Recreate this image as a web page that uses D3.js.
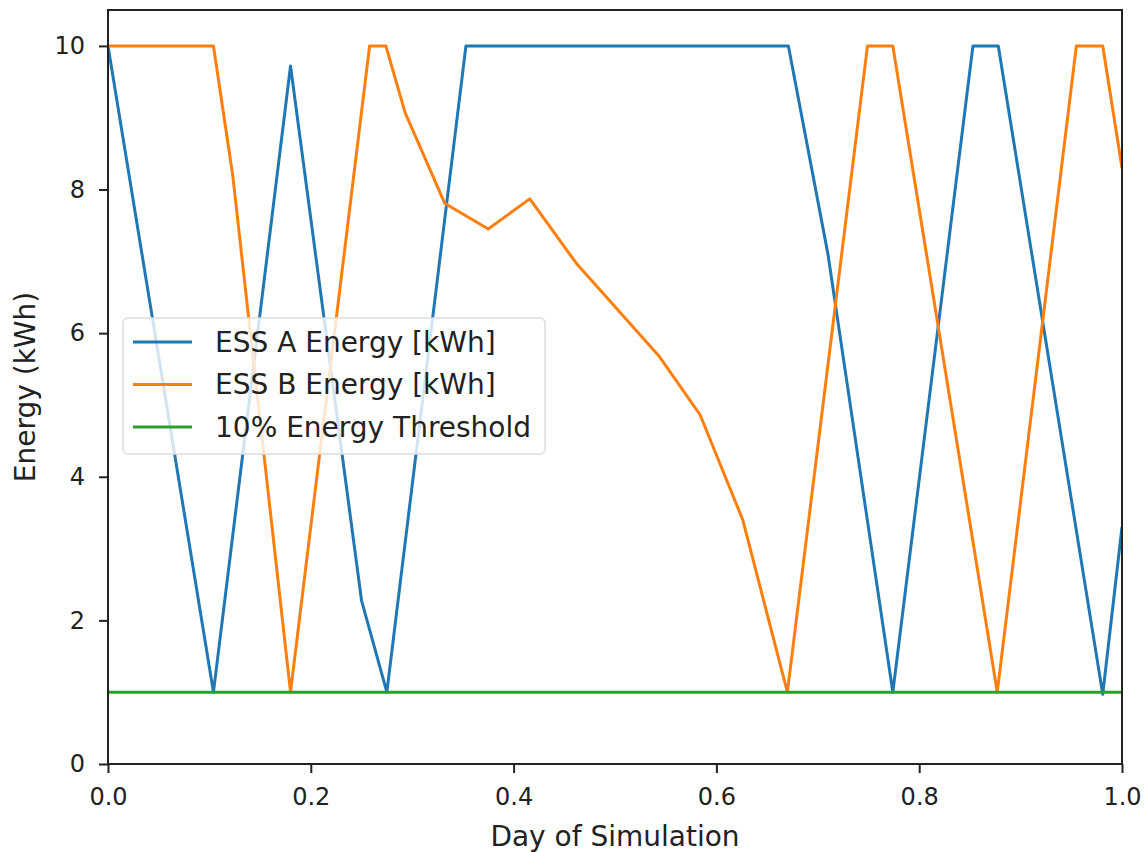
<!DOCTYPE html>
<html>
<head>
<meta charset="utf-8">
<script src="https://cdn.jsdelivr.net/npm/d3@7"></script>
<style>
  body { margin: 0; background: #fff; }
  text { font-family: "DejaVu Sans", sans-serif; fill: #222; }
</style>
</head>
<body>
<div id="chart"></div>
<script>
// ESS A energy (day, kWh)
var essA_x = [0, 0.104, 0.180, 0.250, 0.275, 0.353, 0.671, 0.710, 0.774, 0.853, 0.878, 0.981, 1.0];
var essA_y = [10, 1.0, 9.72, 2.28, 1.0, 10, 10, 7.1, 1.0, 10, 10, 0.97, 3.3];

// ESS B energy (day, kWh)
var essB_x = [0, 0.104, 0.123, 0.180, 0.258, 0.274, 0.293, 0.332, 0.375, 0.416, 0.462, 0.544, 0.584, 0.626, 0.670, 0.749, 0.774, 0.877, 0.955, 0.981, 1.0];
var essB_y = [10, 10, 8.2, 1.0, 10, 10, 9.07, 7.81, 7.45, 7.87, 6.97, 5.67, 4.86, 3.40, 1.0, 10, 10, 1.0, 10, 10, 8.3];

var thresholdX = [0, 1];
var thresholdY = [1, 1];

var seriesNames = ["ESS A Energy [kWh]", "ESS B Energy [kWh]", "10% Energy Threshold"];
var seriesColors = ["#1f77b4", "#ff7f0e", "#2ca02c"];
var xTicks = [0, 0.2, 0.4, 0.6, 0.8, 1.0];
var yTicks = [0, 2, 4, 6, 8, 10];

var width = 1147, height = 852;
var margin = {top: 10, right: 25, bottom: 88, left: 108};

var svg = d3.select("#chart")
    .append("svg")
    .attr("width", width)
    .attr("height", height);

var x = d3.scaleLinear().domain([0, 1]).range([margin.left, width - margin.right]);
var y = d3.scaleLinear().domain([0, 10.5]).range([height - margin.bottom, margin.top]);

function zip(xs, ys) {
  return xs.map(function (d, i) { return [d, ys[i]]; });
}
var series = [zip(essA_x, essA_y), zip(essB_x, essB_y), zip(thresholdX, thresholdY)];

svg.append("defs").append("clipPath").attr("id", "clip")
  .append("rect")
    .attr("x", margin.left).attr("y", margin.top)
    .attr("width", x(1) - x(0)).attr("height", y(0) - y(10.5));

var line = d3.line()
    .x(function (d) { return x(d[0]); })
    .y(function (d) { return y(d[1]); });

svg.append("g")
    .attr("clip-path", "url(#clip)")
    .selectAll("path")
    .data(series)
    .enter().append("path")
    .attr("d", line)
    .attr("fill", "none")
    .attr("stroke", function (d, i) { return seriesColors[i]; })
    .attr("stroke-width", 3)
    .attr("stroke-linejoin", "round");

// axes
var xAxis = svg.append("g")
    .attr("transform", "translate(0," + y(0) + ")")
    .call(d3.axisBottom(x).tickValues(xTicks).tickFormat(d3.format(".1f")).tickSize(9).tickPadding(15));
var yAxis = svg.append("g")
    .attr("transform", "translate(" + x(0) + ",0)")
    .call(d3.axisLeft(y).tickValues(yTicks).tickFormat(d3.format("d")).tickSize(9).tickPadding(14));

[xAxis, yAxis].forEach(function (a) {
  a.select(".domain").remove();
  a.selectAll(".tick line").attr("stroke", "#222").attr("stroke-width", 2);
  a.selectAll(".tick text").style("font-size", "24px").attr("fill", "#222");
});

// frame
svg.append("rect")
    .attr("x", x(0)).attr("y", y(10.5))
    .attr("width", x(1) - x(0)).attr("height", y(0) - y(10.5))
    .attr("fill", "none")
    .attr("stroke", "#222")
    .attr("stroke-width", 2);

svg.append("text")
    .attr("x", (x(0) + x(1)) / 2)
    .attr("y", 846)
    .attr("text-anchor", "middle")
    .style("font-size", "28px")
    .text("Day of Simulation");

svg.append("text")
    .attr("transform", "translate(35," + ((y(0) + y(10.5)) / 2) + ") rotate(-90)")
    .attr("text-anchor", "middle")
    .style("font-size", "28px")
    .text("Energy (kWh)");

// legend
var legend = svg.append("g").attr("transform", "translate(123,318)");
legend.append("rect")
    .attr("width", 422).attr("height", 136)
    .attr("rx", 5).attr("ry", 5)
    .attr("fill", "#fff").attr("fill-opacity", 0.8)
    .attr("stroke", "#ddd").attr("stroke-width", 1.5);

var item = legend.selectAll(".item")
    .data(seriesNames)
    .enter().append("g")
    .attr("class", "item")
    .attr("transform", function (d, i) { return "translate(0," + (24 + i * 42.5) + ")"; });

item.append("line")
    .attr("x1", 10).attr("x2", 69)
    .attr("stroke", function (d, i) { return seriesColors[i]; })
    .attr("stroke-width", 3);

item.append("text")
    .attr("x", 92)
    .attr("dy", "0.35em")
    .style("font-size", "28px")
    .text(function (d) { return d; });
</script>
</body>
</html>
